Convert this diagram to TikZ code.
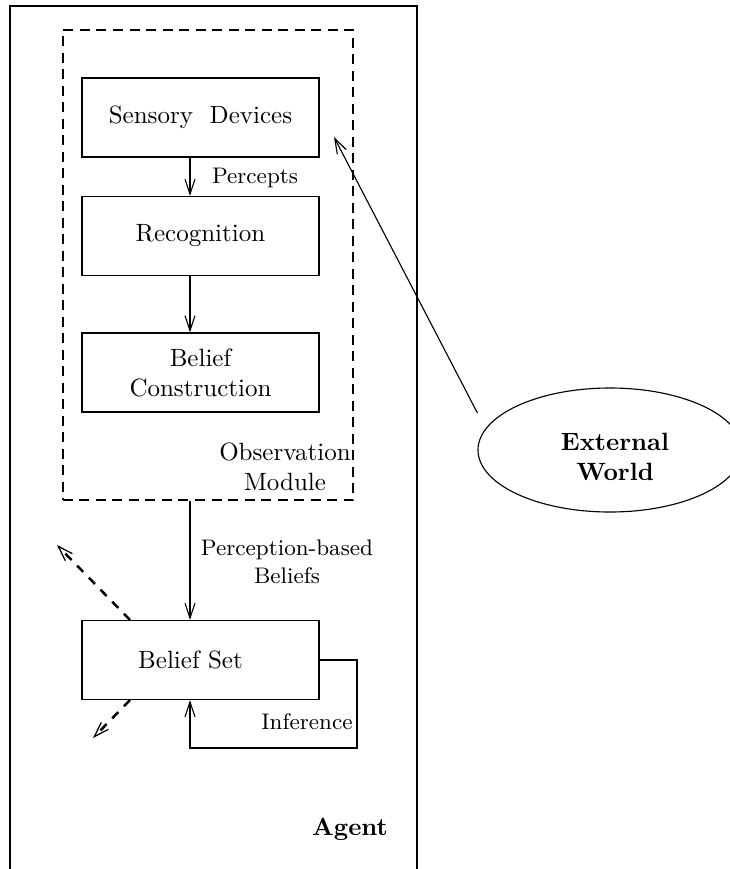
\documentclass[tikz,border=0pt]{standalone}
\usetikzlibrary{arrows.meta,shapes.geometric,calc}
\begin{document}
\begin{tikzpicture}[x=0.4pt,y=-0.4pt,
  box/.style={draw,line width=0.45pt,minimum width=94.8pt,minimum height=31.6pt,inner sep=0pt,align=center},
  arr/.style={line width=0.45pt,-{Straight Barb[length=6pt,width=4pt]}},
  dasharr/.style={line width=1pt,dash pattern=on 3.5pt off 3.2pt,-{Straight Barb[length=6pt,width=4pt,line width=0.5pt]}},
  lbl/.style={font=\small,inner sep=0pt,align=center},
  txt/.style={inner sep=0pt,align=center}]
\useasboundingbox (0,0) rectangle (730,869);
% agent frame
\draw[line width=0.45pt] (10,869) -- (10,6) -- (417,6) -- (417,869);
% observation module
\node[draw,dash pattern=on 4pt off 2.6pt,line width=1pt,minimum width=116pt,minimum height=188pt,inner sep=0pt] (obs) at (208,265) {};
\node[txt] (obslbl) at (285,467) {Observation\\Module};
% boxes
\node[box] (sd) at (200.5,117.5) {Sensory\ \ Devices};
\node[box] (rec) at (200.5,236) {Recognition};
\node[box] (bc) at (200.5,372.5) {Belief\\Construction};
\node[box] (bs) at (200.5,660) {Belief Set\hspace{8pt}};
% helper coordinates
\coordinate (ax) at (190,0);
\coordinate (dx) at (130,0);
% arrows
\draw[arr] (sd.south -| ax) -- (rec.north -| ax);
\node[lbl] (perc) at (255,178) {Percepts};
\draw[arr] (rec.south -| ax) -- (bc.north -| ax);
\draw[arr] (obs.south -| ax) -- (bs.north -| ax);
\node[lbl] (pbb) at (287,562) {Perception-based\\Beliefs};
% inference loop
\draw[arr] (bs.east) -- (357,660) -- (357,748) -| (bs.south -| ax);
\node[lbl] (inf) at (307,722) {Inference};
% dashed arrows
\coordinate (up) at (57,545);
\coordinate (down) at (93,738);
\draw[dasharr] (bs.north -| dx) -- (up);
\draw[dasharr] (bs.south -| dx) -- (down);
% external world
\node[draw,ellipse,line width=0.45pt,minimum width=105.6pt,minimum height=49.6pt,inner sep=0pt] (ew) at (610,450) {};
\node[txt,font=\bfseries] (ewlbl) at (615,457) {External\\World};
\coordinate (tip) at (334,137);
\draw[arr] ($(ew.west)+(0,-37)$) -- (tip);
% agent label
\node[txt,font=\bfseries] (agent) at (350,829) {Agent};
\end{tikzpicture}
\end{document}
